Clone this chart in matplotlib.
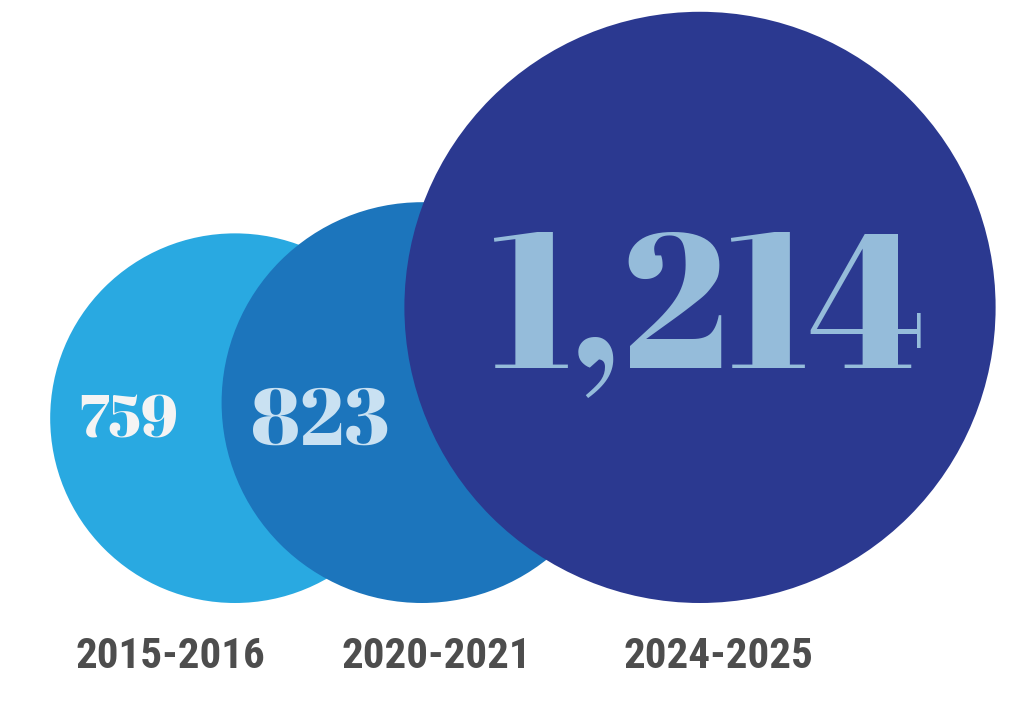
import matplotlib.pyplot as plt
from matplotlib.patches import Circle

# data
periods = ['2015-2016', '2020-2021', '2024-2025']
counts = [759, 823, 1214]
count_labels = ['759', '823', '1,214']

# layout (pixels, y down)
W, H = 1031, 722
px_per_unit = 0.2435          # circle radius grows with the count
centers_x = [235, 422, 700]
bottom_y = 603
text_xy = [(128, 438), (320, 445), (708, 368)]
text_px = [60, 80, 192]
year_x = [170, 436, 718]
year_y = 668

circle_colors = ['#29a9e1', '#1c75bc', '#2b3990']
text_colors = ['#f4f4f4', '#c9e1f2', '#95bcda']
year_color = '#4d4d4d'

serif = ['Abril Fatface', 'Liberation Serif', 'DejaVu Serif']
narrow = ['Roboto Condensed', 'Liberation Sans Narrow', 'DejaVu Sans']

dpi = 100
fig = plt.figure(figsize=(W / dpi, H / dpi), dpi=dpi)
ax = fig.add_axes([0, 0, 1, 1])
ax.set_xlim(0, W)
ax.set_ylim(H, 0)
ax.set_aspect('equal')
ax.axis('off')

pt = 72 / dpi
for i, n in enumerate(counts):
    r = n * px_per_unit
    ax.add_patch(Circle((centers_x[i], bottom_y - r), r, color=circle_colors[i], lw=0, zorder=1 + i))

for i, lab in enumerate(count_labels):
    x, y = text_xy[i]
    ax.text(x, y, lab, ha='center', va='baseline', fontsize=text_px[i] * pt,
            family=serif, weight='bold', color=text_colors[i], zorder=10)

for i, p in enumerate(periods):
    ax.text(year_x[i], year_y, p, ha='center', va='baseline', fontsize=43 * pt,
            family=narrow, weight='bold', color=year_color, zorder=10)

fig.savefig('out.png', dpi=dpi)
